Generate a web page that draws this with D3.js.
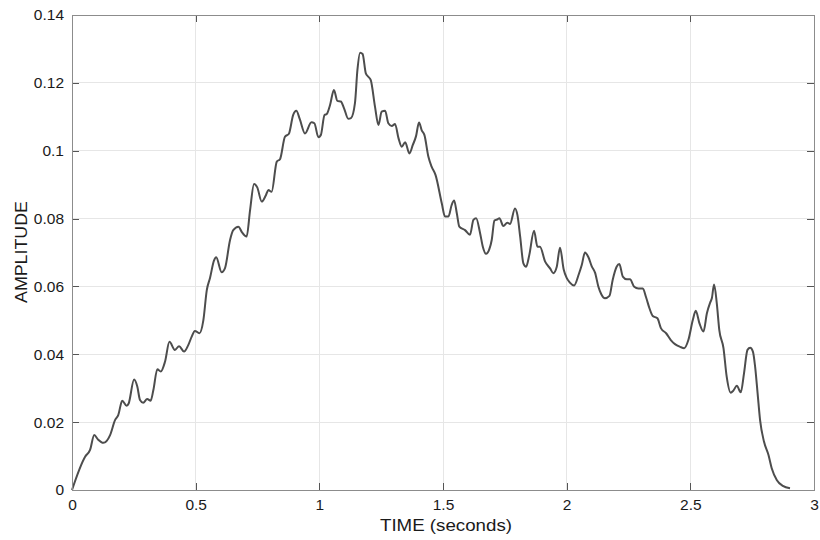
<!DOCTYPE html>
<html><head><meta charset="utf-8">
<script src="https://cdn.jsdelivr.net/npm/d3@7"></script>
<style>body{margin:0;background:#fff}svg{display:block}text{font-family:"Liberation Sans",Arial,Helvetica,sans-serif}</style>
</head><body>
<svg id="c" width="820" height="540"></svg>
<script>
const times = [0,0.053,0.073,0.090,0.105,0.127,0.154,0.174,0.187,0.203,0.221,0.229,0.251,0.264,0.275,0.288,0.304,0.318,0.329,0.345,0.359,0.376,0.394,0.416,0.433,0.453,0.470,0.484,0.497,0.515,0.531,0.545,0.558,0.574,0.583,0.605,0.619,0.639,0.652,0.673,0.686,0.706,0.720,0.736,0.749,0.767,0.784,0.794,0.807,0.828,0.841,0.861,0.877,0.894,0.907,0.921,0.942,0.968,0.980,0.996,1.006,1.021,1.030,1.043,1.059,1.073,1.087,1.100,1.117,1.128,1.144,1.154,1.165,1.175,1.188,1.198,1.208,1.225,1.239,1.252,1.266,1.279,1.293,1.306,1.320,1.333,1.347,1.364,1.378,1.391,1.403,1.414,1.425,1.441,1.454,1.470,1.495,1.508,1.522,1.535,1.545,1.556,1.566,1.589,1.609,1.623,1.634,1.650,1.661,1.674,1.687,1.697,1.708,1.721,1.728,1.744,1.760,1.771,1.791,1.801,1.812,1.825,1.836,1.849,1.868,1.882,1.892,1.913,1.933,1.946,1.960,1.973,1.988,2.000,2.012,2.030,2.049,2.061,2.074,2.088,2.101,2.115,2.128,2.140,2.155,2.173,2.186,2.202,2.213,2.227,2.243,2.256,2.273,2.290,2.308,2.321,2.335,2.348,2.367,2.381,2.402,2.421,2.438,2.459,2.475,2.492,2.510,2.522,2.537,2.553,2.567,2.580,2.587,2.596,2.607,2.617,2.634,2.647,2.663,2.674,2.688,2.704,2.717,2.731,2.742,2.753,2.762,2.772,2.782,2.798,2.816,2.829,2.850,2.874,2.903];
const amplitude = [0,0.0098,0.0118,0.0162,0.0149,0.0139,0.0162,0.0206,0.0221,0.0263,0.0248,0.0255,0.0326,0.0305,0.0265,0.0257,0.0268,0.0263,0.0295,0.0356,0.0349,0.0378,0.0437,0.0413,0.0424,0.0408,0.0427,0.0452,0.0469,0.0462,0.0500,0.0589,0.0625,0.0676,0.0686,0.0642,0.0655,0.0737,0.0766,0.0776,0.0761,0.0747,0.0825,0.0902,0.0892,0.0850,0.0869,0.0884,0.0879,0.0968,0.0975,0.1041,0.1050,0.1105,0.1118,0.1093,0.1051,0.1084,0.1081,0.1040,0.1046,0.1105,0.1108,0.1134,0.1179,0.1147,0.1145,0.1125,0.1094,0.1096,0.1140,0.1238,0.1289,0.1285,0.1228,0.1218,0.1208,0.1130,0.1076,0.1115,0.1118,0.1081,0.1073,0.1079,0.1037,0.1012,0.1025,0.0992,0.1017,0.1043,0.1083,0.1060,0.1046,0.0982,0.0953,0.0928,0.0845,0.0806,0.0806,0.0840,0.0853,0.0815,0.0776,0.0766,0.0752,0.0796,0.0801,0.0757,0.0717,0.0696,0.0709,0.0737,0.0794,0.0798,0.0801,0.0778,0.0788,0.0784,0.0830,0.0810,0.0747,0.0668,0.0658,0.0693,0.0764,0.0717,0.0717,0.0673,0.0653,0.0639,0.0658,0.0714,0.0650,0.0625,0.0612,0.0603,0.0636,0.0663,0.0700,0.0686,0.0660,0.0640,0.0600,0.0577,0.0565,0.0572,0.0619,0.0658,0.0666,0.0629,0.0621,0.0621,0.0599,0.0594,0.0594,0.0568,0.0535,0.0513,0.0506,0.0477,0.0462,0.0442,0.0430,0.0422,0.0418,0.0442,0.0501,0.0528,0.0491,0.0467,0.0521,0.0552,0.0565,0.0606,0.0550,0.0472,0.0418,0.0334,0.0287,0.0293,0.0307,0.0288,0.0344,0.0413,0.0419,0.0408,0.0363,0.0285,0.0206,0.0142,0.0103,0.0064,0.0029,0.0012,0.0005];
const xTicks = [0,0.5,1,1.5,2,2.5,3];
const xTickLabels = ["0","0.5","1","1.5","2","2.5","3"];
const yTicks = [0,0.02,0.04,0.06,0.08,0.1,0.12,0.14];
const yTickLabels = ["0","0.02","0.04","0.06","0.08","0.1","0.12","0.14"];
const xTitle = "TIME (seconds)";
const yTitle = "AMPLITUDE";

const m = {l:72, r:6, t:15, b:50};
const W = 820, H = 540;
const iw = W - m.l - m.r, ih = H - m.t - m.b;
const svg = d3.select("#c");
const g = svg.append("g").attr("transform", `translate(${m.l},${m.t})`);
const x = d3.scaleLinear().domain([0,3]).range([0, iw]);
const y = d3.scaleLinear().domain([0,0.14]).range([ih, 0]);

// grid
g.append("g").selectAll("line").data(xTicks.slice(1,-1)).join("line")
  .attr("x1", d=>x(d)).attr("x2", d=>x(d)).attr("y1",0).attr("y2",ih)
  .attr("stroke","#e6e6e6").attr("stroke-width",1).attr("shape-rendering","crispEdges");
g.append("g").selectAll("line").data(yTicks.slice(1,-1)).join("line")
  .attr("y1", d=>y(d)).attr("y2", d=>y(d)).attr("x1",0).attr("x2",iw)
  .attr("stroke","#e6e6e6").attr("stroke-width",1).attr("shape-rendering","crispEdges");

// line
const pts = times.map((t,i)=>[t, amplitude[i]]);
g.append("path").datum(pts)
  .attr("fill","none").attr("stroke","#4d4d4d").attr("stroke-width",2).attr("stroke-linejoin","round")
  .attr("d", d3.line().x(d=>x(d[0])).y(d=>y(d[1])).curve(d3.curveMonotoneX));

// axes
const tickLen = 7;
const fmtX = (d,i)=>xTickLabels[i];
const fmtY = (d,i)=>yTickLabels[i];
const styleAxis = sel => {
  sel.select(".domain").remove();
  sel.selectAll("line").attr("stroke","#555").attr("shape-rendering","crispEdges");
  sel.selectAll("text").attr("fill","#1a1a1a").style("font-size","15.5px");
};
g.append("g").attr("transform",`translate(0,${ih})`)
  .call(d3.axisBottom(x).tickValues(xTicks).tickFormat(fmtX).tickSizeInner(-tickLen).tickSizeOuter(0).tickPadding(9))
  .call(styleAxis);
g.append("g")
  .call(d3.axisTop(x).tickValues(xTicks).tickFormat("").tickSizeInner(-tickLen).tickSizeOuter(0))
  .call(styleAxis);
g.append("g")
  .call(d3.axisLeft(y).tickValues(yTicks).tickFormat(fmtY).tickSizeInner(-tickLen).tickSizeOuter(0).tickPadding(8))
  .call(styleAxis);
g.append("g").attr("transform",`translate(${iw},0)`)
  .call(d3.axisRight(y).tickValues(yTicks).tickFormat("").tickSizeInner(-tickLen).tickSizeOuter(0))
  .call(styleAxis);

// frame
g.append("rect").attr("x",0).attr("y",0).attr("width",iw).attr("height",ih)
  .attr("fill","none").attr("stroke","#8c8c8c").attr("stroke-width",1).attr("shape-rendering","crispEdges");

// titles
svg.append("text").attr("x", 446).attr("y", 531).attr("text-anchor","middle")
  .attr("textLength",132).attr("lengthAdjust","spacingAndGlyphs")
  .style("font-size","17px").attr("fill","#1a1a1a").text(xTitle);
svg.append("text").attr("transform",`translate(27,252) rotate(-90)`).attr("text-anchor","middle")
  .attr("textLength",102).attr("lengthAdjust","spacingAndGlyphs")
  .style("font-size","17px").attr("fill","#1a1a1a").text(yTitle);
</script>
</body></html>
